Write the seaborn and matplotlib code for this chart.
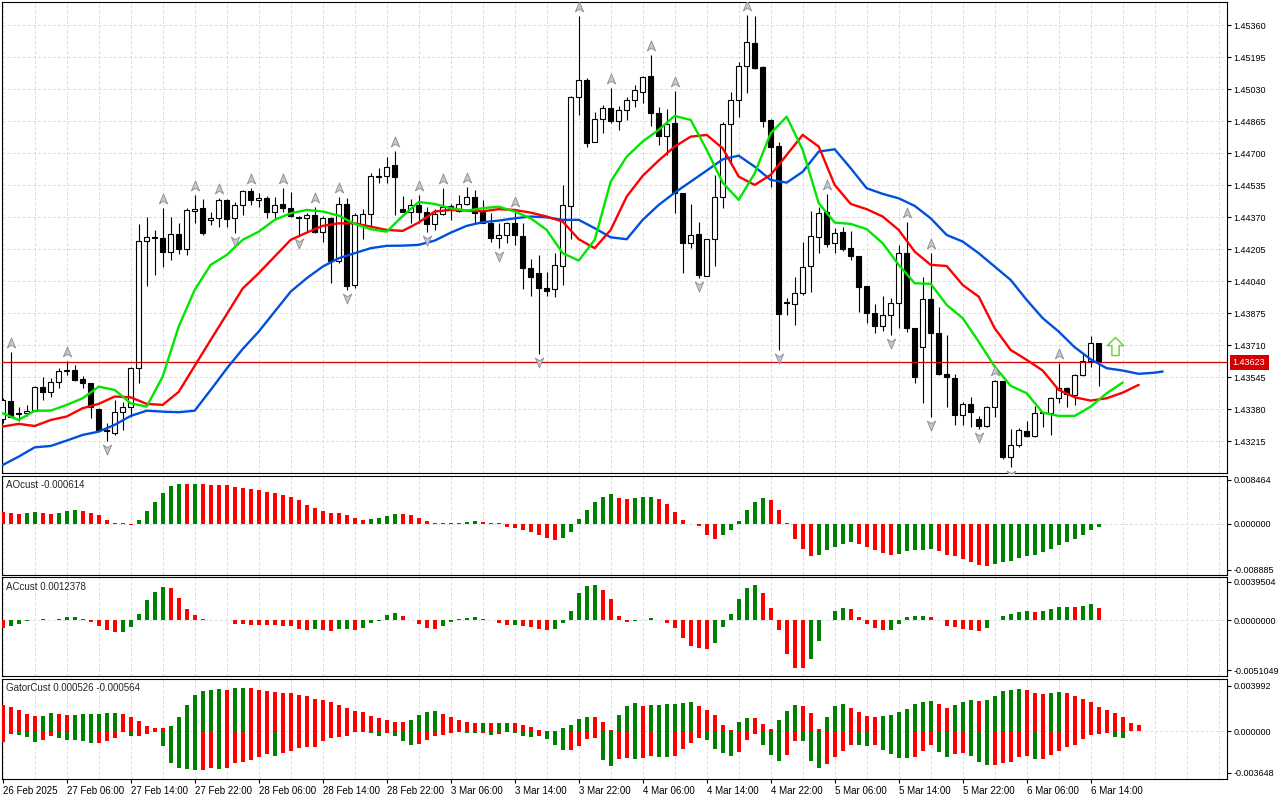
import numpy as np
import matplotlib
matplotlib.use("Agg")
import matplotlib.pyplot as plt
import seaborn as sns
from matplotlib.path import Path
from matplotlib.transforms import offset_copy, blended_transform_factory

# ---- price data (H1 bars, 26 Feb 22:00 .. 6 Mar 15:00) ----
opens = [1.43328, 1.43421, 1.43363, 1.43359, 1.43373, 1.43493, 1.43471, 1.43519, 1.43578, 1.43583,
         1.43535, 1.43514, 1.43380, 1.43273, 1.43259, 1.43368, 1.43394, 1.43591, 1.44250, 1.44267,
         1.44262, 1.44193, 1.44282, 1.44205, 1.44401, 1.44416, 1.44356, 1.44365, 1.44459, 1.44365,
         1.44433, 1.44506, 1.44459, 1.44468, 1.44396, 1.44437, 1.44416, 1.44373, 1.44365, 1.44382,
         1.44293, 1.44365, 1.44147, 1.44439, 1.44021, 1.44330, 1.44387, 1.44580, 1.44583, 1.44640,
         1.44411, 1.44399, 1.44433, 1.44396, 1.44334, 1.44385, 1.44430, 1.44404, 1.44439, 1.44473,
         1.44399, 1.44339, 1.44262, 1.44279, 1.44339, 1.44274, 1.44107, 1.44081, 1.44004, 1.43999,
         1.44121, 1.44430, 1.44989, 1.45078, 1.44760, 1.44875, 1.44932, 1.44868, 1.44923, 1.44975,
         1.45018, 1.45099, 1.44910, 1.44789, 1.44854, 1.44497, 1.44239, 1.44282, 1.44069, 1.44257,
         1.44473, 1.44851, 1.44975, 1.45150, 1.45267, 1.45147, 1.44872, 1.44738, 1.43935, 1.43921,
         1.43978, 1.44121, 1.44270, 1.44397, 1.44239, 1.44293, 1.44210, 1.44171, 1.44016, 1.43875,
         1.43811, 1.43866, 1.43930, 1.44184, 1.43798, 1.43703, 1.43947, 1.43772, 1.43560, 1.43540,
         1.43351, 1.43406, 1.43328, 1.43294, 1.43390, 1.43526, 1.43136, 1.43196, 1.43270, 1.43242,
         1.43363, 1.43363, 1.43437, 1.43488, 1.43454, 1.43557, 1.43631, 1.43720]
highs = [1.43440, 1.43677, 1.43394, 1.43402, 1.43500, 1.43548, 1.43543, 1.43591, 1.43631, 1.43609,
         1.43552, 1.43517, 1.43385, 1.43308, 1.43428, 1.43420, 1.43600, 1.44336, 1.44370, 1.44305,
         1.44416, 1.44370, 1.44339, 1.44416, 1.44485, 1.44465, 1.44396, 1.44468, 1.44463, 1.44451,
         1.44511, 1.44520, 1.44494, 1.44480, 1.44477, 1.44520, 1.44501, 1.44377, 1.44391, 1.44425,
         1.44377, 1.44373, 1.44477, 1.44468, 1.44391, 1.44411, 1.44597, 1.44623, 1.44683, 1.44712,
         1.44480, 1.44463, 1.44485, 1.44425, 1.44411, 1.44520, 1.44439, 1.44485, 1.44528, 1.44510,
         1.44459, 1.44391, 1.44339, 1.44348, 1.44404, 1.44339, 1.44154, 1.44176, 1.44090, 1.44184,
         1.44537, 1.44996, 1.45408, 1.45087, 1.44915, 1.44949, 1.45039, 1.44944, 1.44992, 1.45052,
         1.45099, 1.45207, 1.44941, 1.44927, 1.45023, 1.44497, 1.44439, 1.44348, 1.44260, 1.44588,
         1.44863, 1.45018, 1.45173, 1.45413, 1.45408, 1.45150, 1.44875, 1.44760, 1.43953, 1.44064,
         1.44245, 1.44404, 1.44425, 1.44490, 1.44313, 1.44322, 1.44301, 1.44171, 1.44016, 1.43923,
         1.43964, 1.43953, 1.44227, 1.44348, 1.43798, 1.44061, 1.44188, 1.43909, 1.43763, 1.43562,
         1.43420, 1.43445, 1.43346, 1.43397, 1.43531, 1.43526, 1.43277, 1.43282, 1.43322, 1.43397,
         1.43368, 1.43445, 1.43621, 1.43497, 1.43562, 1.43669, 1.43758, 1.43720]
lows = [1.43310, 1.43339, 1.43322, 1.43346, 1.43370, 1.43428, 1.43442, 1.43488, 1.43557, 1.43528,
        1.43488, 1.43334, 1.43270, 1.43215, 1.43247, 1.43273, 1.43342, 1.43517, 1.44016, 1.44073,
        1.44116, 1.44150, 1.44181, 1.44176, 1.44342, 1.44279, 1.44330, 1.44322, 1.44322, 1.44287,
        1.44382, 1.44433, 1.44421, 1.44365, 1.44365, 1.44399, 1.44373, 1.44279, 1.44296, 1.44287,
        1.44245, 1.44030, 1.44133, 1.43996, 1.44004, 1.44257, 1.44322, 1.44545, 1.44549, 1.44382,
        1.44396, 1.44339, 1.44342, 1.44296, 1.44305, 1.44382, 1.44356, 1.44399, 1.44433, 1.44339,
        1.44339, 1.44245, 1.44210, 1.44236, 1.44227, 1.43999, 1.43964, 1.43665, 1.43964, 1.43961,
        1.44021, 1.44257, 1.44898, 1.44734, 1.44757, 1.44807, 1.44855, 1.44820, 1.44872, 1.44941,
        1.44958, 1.44841, 1.44743, 1.44691, 1.44394, 1.44085, 1.44210, 1.44056, 1.44067, 1.44119,
        1.44416, 1.44640, 1.44889, 1.45013, 1.45135, 1.44837, 1.44528, 1.43686, 1.43866, 1.43815,
        1.43970, 1.43987, 1.44188, 1.44219, 1.44188, 1.44198, 1.44150, 1.43883, 1.43827, 1.43772,
        1.43786, 1.43763, 1.43801, 1.43780, 1.43517, 1.43411, 1.43342, 1.43557, 1.43390, 1.43299,
        1.43299, 1.43291, 1.43277, 1.43291, 1.43342, 1.43123, 1.43084, 1.43187, 1.43239, 1.43239,
        1.43290, 1.43247, 1.43414, 1.43390, 1.43402, 1.43552, 1.43600, 1.43500]
closes = [1.43428, 1.43342, 1.43356, 1.43373, 1.43493, 1.43471, 1.43519, 1.43578, 1.43583, 1.43531,
          1.43514, 1.43390, 1.43273, 1.43268, 1.43368, 1.43394, 1.43591, 1.44250, 1.44267, 1.44265,
          1.44193, 1.44282, 1.44205, 1.44408, 1.44413, 1.44291, 1.44365, 1.44459, 1.44360, 1.44433,
          1.44506, 1.44459, 1.44468, 1.44396, 1.44432, 1.44416, 1.44377, 1.44365, 1.44382, 1.44296,
          1.44368, 1.44147, 1.44439, 1.44016, 1.44382, 1.44387, 1.44583, 1.44585, 1.44631, 1.44580,
          1.44399, 1.44433, 1.44399, 1.44334, 1.44385, 1.44425, 1.44418, 1.44439, 1.44477, 1.44391,
          1.44342, 1.44262, 1.44279, 1.44339, 1.44279, 1.44107, 1.44064, 1.44004, 1.43992, 1.44124,
          1.44434, 1.44989, 1.45078, 1.44755, 1.44875, 1.44932, 1.44868, 1.44923, 1.44975, 1.45027,
          1.45092, 1.44910, 1.44789, 1.44849, 1.44494, 1.44239, 1.44277, 1.44073, 1.44257, 1.44473,
          1.44851, 1.44975, 1.45150, 1.45272, 1.45138, 1.44868, 1.44734, 1.43870, 1.43927, 1.43978,
          1.44116, 1.44274, 1.44391, 1.44232, 1.44291, 1.44205, 1.44171, 1.44012, 1.43875, 1.43811,
          1.43866, 1.43927, 1.44188, 1.43798, 1.43545, 1.43947, 1.43772, 1.43560, 1.43545, 1.43351,
          1.43406, 1.43368, 1.43294, 1.43394, 1.43526, 1.43136, 1.43196, 1.43273, 1.43242, 1.43363,
          1.43365, 1.43437, 1.43488, 1.43459, 1.43557, 1.43631, 1.43720, 1.43623]
current_price = 1.43623

# ---- Alligator lines (read every second bar, shifted forward) ----
lips_idx = list(range(0, 141, 2))
lips = [1.43360, 1.43325, 1.43373, 1.43373, 1.43403, 1.43437, 1.43497, 1.43480, 1.43411, 1.43394,
        1.43549, 1.43807, 1.43996, 1.44125, 1.44176, 1.44254, 1.44296, 1.44357, 1.44391, 1.44408,
        1.44400, 1.44379, 1.44336, 1.44309, 1.44296, 1.44377, 1.44449, 1.44439, 1.44417, 1.44405,
        1.44417, 1.44425, 1.44400, 1.44365, 1.44305, 1.44185, 1.44147, 1.44254, 1.44554, 1.44683,
        1.44761, 1.44821, 1.44893, 1.44872, 1.44718, 1.44549, 1.44460, 1.44597, 1.44804, 1.44889,
        1.44718, 1.44443, 1.44343, 1.44336, 1.44309, 1.44236, 1.44125, 1.44030, 1.44027, 1.43918,
        1.43850, 1.43729, 1.43600, 1.43501, 1.43463, 1.43363, 1.43346, 1.43346, 1.43394, 1.43463,
        1.43518]
teeth_idx = list(range(0, 143, 2))
teeth = [1.43291, 1.43305, 1.43294, 1.43325, 1.43343, 1.43386, 1.43408, 1.43446, 1.43442, 1.43408,
         1.43403, 1.43470, 1.43604, 1.43738, 1.43870, 1.44003, 1.44082, 1.44168, 1.44254, 1.44291,
         1.44326, 1.44339, 1.44339, 1.44322, 1.44305, 1.44300, 1.44343, 1.44400, 1.44408, 1.44405,
         1.44401, 1.44412, 1.44408, 1.44394, 1.44374, 1.44348, 1.44257, 1.44211, 1.44305, 1.44477,
         1.44584, 1.44663, 1.44735, 1.44786, 1.44795, 1.44726, 1.44580, 1.44537, 1.44589, 1.44692,
         1.44795, 1.44735, 1.44537, 1.44439, 1.44412, 1.44374, 1.44305, 1.44193, 1.44125, 1.44119,
         1.44021, 1.43961, 1.43798, 1.43686, 1.43635, 1.43580, 1.43480, 1.43442, 1.43425, 1.43437,
         1.43466, 1.43506]
jaw_idx = list(range(0, 145, 2)) + [145]
jaw = [1.43093, 1.43136, 1.43184, 1.43191, 1.43219, 1.43248, 1.43265, 1.43300, 1.43346, 1.43373,
       1.43368, 1.43365, 1.43373, 1.43480, 1.43590, 1.43691, 1.43781, 1.43884, 1.43987, 1.44056,
       1.44116, 1.44159, 1.44185, 1.44211, 1.44223, 1.44224, 1.44228, 1.44250, 1.44291, 1.44326,
       1.44345, 1.44353, 1.44365, 1.44374, 1.44370, 1.44357, 1.44357, 1.44314, 1.44267, 1.44257,
       1.44357, 1.44434, 1.44497, 1.44554, 1.44611, 1.44669, 1.44688, 1.44631, 1.44563, 1.44549,
       1.44605, 1.44709, 1.44721, 1.44623, 1.44520, 1.44491, 1.44468, 1.44429, 1.44365, 1.44279,
       1.44245, 1.44185, 1.44116, 1.44047, 1.43944, 1.43850, 1.43781, 1.43700, 1.43638, 1.43592,
       1.43580, 1.43563, 1.43569, 1.43575]

fractal_up = [1, 8, 20, 24, 27, 31, 35, 39, 42, 49, 52, 55, 58, 64, 72, 76, 81, 84, 93, 103, 113, 116, 124, 132]
fractal_down = [13, 29, 37, 43, 53, 62, 67, 87, 97, 111, 116, 122, 126]
signal_bar = 139
signal_price = 1.43707

# ---- oscillators ----
ao = [0.002251, 0.002122, 0.001929, 0.002122, 0.002186, 0.002122, 0.001929, 0.002122, 0.002508, 0.002572,
      0.002508, 0.002122, 0.001736, 0.000772, 0.000193, 0.000064, -0.000322, 0.000772, 0.002508, 0.004244,
      0.005980, 0.007330, 0.007716, 0.007652, 0.007716, 0.007652, 0.007523, 0.007459, 0.007395, 0.007137,
      0.006944, 0.006752, 0.006559, 0.006173, 0.005980, 0.005594, 0.005208, 0.004630, 0.003665, 0.003086,
      0.002508, 0.002122, 0.002058, 0.001736, 0.001157, 0.000772, 0.000965, 0.001157, 0.001543, 0.001929,
      0.001865, 0.001736, 0.001157, 0.000579, 0.000193, 0.000161, 0.000064, 0.000096, 0.000386, 0.000418,
      0.000386, 0.000193, 0.000064, -0.000579, -0.000772, -0.001157, -0.001543, -0.002122, -0.002701, -0.003086,
      -0.002701, -0.001543, 0.000965, 0.002701, 0.004244, 0.005208, 0.005787, 0.005015, 0.004823, 0.005015,
      0.005048, 0.005080, 0.004823, 0.003858, 0.002315, 0.000772, -0.000064, -0.000514, -0.002122, -0.002894,
      -0.002122, -0.001157, 0.000579, 0.002572, 0.004244, 0.005015, 0.004630, 0.002701, 0.000064, -0.002894,
      -0.004823, -0.006173, -0.005980, -0.005015, -0.004437, -0.003858, -0.003472, -0.003858, -0.004437, -0.005015,
      -0.005594, -0.005980, -0.005787, -0.005208, -0.005144, -0.005015, -0.004823, -0.005208, -0.005980, -0.006173,
      -0.006752, -0.007330, -0.007909, -0.008102, -0.007716, -0.007330, -0.007137, -0.006559, -0.006173, -0.005980,
      -0.005401, -0.004823, -0.004051, -0.003472, -0.002894, -0.002122, -0.001157, -0.000614]
ac = [-0.000755, -0.000583, -0.000377, -0.000034, 0.000034, 0.000103, 0.000034, 0.000137, 0.000309, 0.000326,
      0.000172, -0.000137, -0.000617, -0.000995, -0.001235, -0.001201, -0.000720, 0.000617, 0.002058, 0.002881,
      0.003396, 0.003293, 0.002264, 0.001132, 0.000515, 0.000103, 0.000034, 0.000051, 0.000017, -0.000377,
      -0.000412, -0.000429, -0.000446, -0.000463, -0.000515, -0.000532, -0.000617, -0.000926, -0.000943, -0.000926,
      -0.001029, -0.001132, -0.000926, -0.000909, -0.001029, -0.000823, -0.000309, -0.000103, 0.000515, 0.000720,
      0.000412, 0.000034, -0.000377, -0.000823, -0.000926, -0.000617, -0.000206, 0.000103, 0.000206, 0.000309,
      0.000103, 0.000034, -0.000309, -0.000515, -0.000497, -0.000617, -0.000720, -0.000926, -0.001029, -0.000926,
      -0.000309, 0.000926, 0.002778, 0.003499, 0.003602, 0.003087, 0.002161, 0.000412, -0.000137, -0.000034,
      0.000034, 0.000206, 0.000034, -0.000309, -0.000823, -0.001852, -0.002573, -0.002778, -0.002881, -0.002264,
      -0.000720, 0.000617, 0.002161, 0.003293, 0.003602, 0.002778, 0.001235, -0.001029, -0.003396, -0.004836,
      -0.004853, -0.003910, -0.002058, 0.000034, 0.000926, 0.001235, 0.001132, 0.000309, -0.000412, -0.000823,
      -0.001029, -0.000995, -0.000412, 0.000309, 0.000412, 0.000429, 0.000309, 0.000034, -0.000617, -0.000635,
      -0.000926, -0.001029, -0.001132, -0.000823, 0.000034, 0.000412, 0.000617, 0.000823, 0.000926, 0.000823,
      0.000926, 0.001132, 0.001338, 0.001355, 0.001338, 0.001441, 0.001646, 0.0012378]
gator_up = [0.002315, 0.002139, 0.001875, 0.001524, 0.001348, 0.001362, 0.001612, 0.001524, 0.001436, 0.001450,
            0.001524, 0.001538, 0.001553, 0.001612, 0.001626, 0.001524, 0.001260, 0.000908, 0.000469, 0.000293,
            0.000278, 0.000469, 0.001260, 0.002315, 0.003194, 0.003545, 0.003633, 0.003721, 0.003633, 0.003809,
            0.003824, 0.003809, 0.003633, 0.003545, 0.003457, 0.003370, 0.003355, 0.003194, 0.003106, 0.002842,
            0.002754, 0.002578, 0.002315, 0.002051, 0.001787, 0.001699, 0.001377, 0.001172, 0.000996, 0.000820,
            0.000806, 0.000996, 0.001436, 0.001699, 0.001787, 0.001524, 0.001260, 0.000996, 0.000820, 0.000733,
            0.000747, 0.000733, 0.000747, 0.000762, 0.000733, 0.000557, 0.000381, 0.000117, 0.000015, 0.000059,
            0.000293, 0.000557, 0.001084, 0.001260, 0.001245, 0.000820, 0.000088, 0.001436, 0.002227, 0.002491,
            0.002227, 0.002315, 0.002329, 0.002403, 0.002417, 0.002491, 0.002578, 0.002227, 0.001875, 0.001436,
            0.000557, 0.000117, 0.000820, 0.001172, 0.001157, 0.000645, 0.000205, 0.000996, 0.001787, 0.002315,
            0.002227, 0.001612, 0.000205, 0.001260, 0.002227, 0.002403, 0.002051, 0.001699, 0.001348, 0.001260,
            0.001348, 0.001436, 0.001699, 0.001963, 0.002403, 0.002578, 0.002666, 0.002403, 0.002051, 0.002315,
            0.002578, 0.002754, 0.002666, 0.002769, 0.003106, 0.003545, 0.003633, 0.003721, 0.003633, 0.003370,
            0.003282, 0.003370, 0.003457, 0.003370, 0.003106, 0.002842, 0.002578, 0.002139, 0.001875, 0.001612,
            0.001260, 0.000762, 0.000526]
gator_down = [-0.000908, -0.000264, -0.000293, -0.000498, -0.000938, -0.000762, -0.000410, -0.000586, -0.000762, -0.000776,
              -0.000850, -0.001026, -0.001011, -0.000850, -0.000586, -0.000059, -0.000410, -0.000396, -0.000234, -0.000059,
              -0.001289, -0.002784, -0.003223, -0.003340, -0.003399, -0.003370, -0.003194, -0.003340, -0.003223, -0.002813,
              -0.002666, -0.002520, -0.002285, -0.001992, -0.002168, -0.001934, -0.001729, -0.001494, -0.001406, -0.001348,
              -0.000850, -0.000586, -0.000469, -0.000410, -0.000059, -0.000029, -0.000117, -0.000410, -0.000147, -0.000410,
              -0.000850, -0.001201, -0.001113, -0.000762, -0.000410, -0.000322, -0.000147, -0.000059, -0.000147, -0.000161,
              -0.000147, -0.000322, -0.000234, -0.000059, -0.000147, -0.000410, -0.000498, -0.000410, -0.000674, -0.001201,
              -0.001641, -0.001612, -0.001289, -0.000674, -0.000586, -0.002520, -0.003047, -0.002432, -0.002344, -0.002432,
              -0.002344, -0.002168, -0.002256, -0.002271, -0.002168, -0.001553, -0.001026, -0.000586, -0.000762, -0.001553,
              -0.001905, -0.002168, -0.001817, -0.000762, -0.000234, -0.001201, -0.002080, -0.002608, -0.002080, -0.000850,
              -0.000864, -0.002608, -0.003223, -0.002871, -0.002256, -0.001729, -0.001201, -0.001216, -0.001289, -0.001201,
              -0.001641, -0.001992, -0.002344, -0.002359, -0.002256, -0.001729, -0.001201, -0.001817, -0.002256, -0.001992,
              -0.001905, -0.002168, -0.002696, -0.002959, -0.002945, -0.002784, -0.002696, -0.002256, -0.002168, -0.002432,
              -0.002417, -0.002080, -0.001729, -0.001377, -0.001201, -0.000674, -0.000322, -0.000234, -0.000147, -0.000498,
              -0.000564]

price_ticks = [1.43215, 1.43380, 1.43545, 1.43710, 1.43875, 1.44040, 1.44205,
               1.44370, 1.44535, 1.44700, 1.44865, 1.45030, 1.45195, 1.45360]
ao_ticks = [0.008464, 0.0, -0.008885]
ac_ticks = [0.0039504, 0.0, -0.0051049]
gator_ticks = [0.003992, 0.0, -0.003648]
time_pos = [0, 8, 16, 24, 32, 40, 48, 56, 64, 72, 80, 88, 96, 104, 112, 120, 128, 136]
time_labels = ["26 Feb 2025", "27 Feb 06:00", "27 Feb 14:00", "27 Feb 22:00", "28 Feb 06:00",
               "28 Feb 14:00", "28 Feb 22:00", "3 Mar 06:00", "3 Mar 14:00", "3 Mar 22:00",
               "4 Mar 06:00", "4 Mar 14:00", "4 Mar 22:00", "5 Mar 06:00", "5 Mar 14:00",
               "5 Mar 22:00", "6 Mar 06:00", "6 Mar 14:00"]

GREEN = "#008000"
RED = "#ff0000"
GRID = "#dcdcdc"
DASH = (0, (3, 2.2))

sns.set_style("white")
plt.rcParams["font.family"] = ["Liberation Sans", "DejaVu Sans"]
plt.rcParams["font.size"] = 7


def px_rect(x0, y0, x1, y1):
    return [x0 / 1280, 1 - y1 / 800, (x1 - x0) / 1280, (y1 - y0) / 800]


def style_panel(ax, ticks, fmt):
    ax.set_xlim(-0.0875, 153.075)
    for s in ax.spines.values():
        s.set_color("black")
        s.set_linewidth(0.8)
    ax.vlines(np.arange(0, 153, 4), 0, 1, transform=ax.get_xaxis_transform(),
              colors=GRID, linewidth=0.7, linestyles=DASH, zorder=0)
    ax.set_yticks(ticks)
    ax.set_yticklabels([fmt.format(v) for v in ticks])
    ax.tick_params(axis="y", left=False, labelleft=False, right=True, labelright=True,
                   length=3, width=0.8, pad=1.5, labelsize=6.5, direction="out", colors="black")
    ax.set_xticks([])


def up_down_colors(values):
    v = np.asarray(values)
    prev = np.concatenate([[np.inf], v[:-1]])
    return np.where(v > prev, GREEN, RED)


fig = plt.figure(figsize=(12.8, 8), dpi=100, facecolor="white")
ax_main = fig.add_axes(px_rect(2, 2, 1227.3, 472.7))
ax_ao = fig.add_axes(px_rect(2, 475.7, 1227.3, 574.7))
ax_ac = fig.add_axes(px_rect(2, 577.3, 1227.3, 676.3))
ax_gt = fig.add_axes(px_rect(2, 678.7, 1227.3, 779))

# ---- main price panel ----
style_panel(ax_main, price_ticks, "{:.5f}")
ax_main.set_ylim(1.430532, 1.454803)
ax_main.hlines(price_ticks, 0, 1, transform=ax_main.get_yaxis_transform(),
               colors=GRID, linewidth=0.7, linestyles=DASH, zorder=0)

o = np.array(opens)
h = np.array(highs)
l = np.array(lows)
c = np.array(closes)
x = np.arange(len(o))
bull = c > o
ax_main.vlines(x, l, h, colors="black", linewidth=0.8, zorder=2)
ax_main.bar(x, np.abs(c - o), bottom=np.minimum(o, c), width=0.6,
            color=np.where(bull, "white", "black"), edgecolor="black", linewidth=0.8, zorder=3)

ax_main.axhline(current_price, color="#d00000", linewidth=0.9, zorder=3.5)

sns.lineplot(x=jaw_idx, y=jaw, ax=ax_main, color="#0050dc", linewidth=1.7, zorder=5)
sns.lineplot(x=teeth_idx, y=teeth, ax=ax_main, color="#ff0000", linewidth=1.7, zorder=5)
sns.lineplot(x=lips_idx, y=lips, ax=ax_main, color="#00e600", linewidth=1.7, zorder=5)
ax_main.set_xlabel("")
ax_main.set_ylabel("")

up_arrow = Path([(0, 1), (0.75, -0.8), (0, -0.3), (-0.75, -0.8), (0, 1)],
                [Path.MOVETO, Path.LINETO, Path.LINETO, Path.LINETO, Path.CLOSEPOLY])
down_arrow = Path([(0, -1), (0.75, 0.8), (0, 0.3), (-0.75, 0.8), (0, -1)],
                  [Path.MOVETO, Path.LINETO, Path.LINETO, Path.LINETO, Path.CLOSEPOLY])
ax_main.plot(fractal_up, h[fractal_up], linestyle="none", marker=up_arrow, ms=8,
             mfc="#c6c6ce", mec="#8a8a94", mew=0.6, zorder=6,
             transform=offset_copy(ax_main.transData, fig=fig, x=0, y=9, units="dots"))
ax_main.plot(fractal_down, l[fractal_down], linestyle="none", marker=down_arrow, ms=8,
             mfc="#c6c6ce", mec="#8a8a94", mew=0.6, zorder=6,
             transform=offset_copy(ax_main.transData, fig=fig, x=0, y=-8, units="dots"))

block_arrow = Path([(0, 1), (0.9, 0.1), (0.4, 0.1), (0.4, -1), (-0.4, -1), (-0.4, 0.1), (-0.9, 0.1), (0, 1)],
                   [Path.MOVETO] + [Path.LINETO] * 6 + [Path.CLOSEPOLY])
ax_main.plot([signal_bar], [signal_price], linestyle="none", marker=block_arrow, ms=13,
             mfc="white", mec="#74d23a", mew=1.1, zorder=7)

ax_main.text(1.0045, current_price, f"{current_price:.5f}", color="white", fontsize=6.5,
             ha="left", va="center", clip_on=False, zorder=10,
             transform=blended_transform_factory(ax_main.transAxes, ax_main.transData),
             bbox=dict(boxstyle="square,pad=0.35", fc="#d40000", ec="none"))

# ---- AO ----
style_panel(ax_ao, ao_ticks, "{:.6f}")
ax_ao.set_ylim(-0.00985, 0.00924)
ax_ao.axhline(0, color=GRID, linewidth=0.7, linestyle=DASH, zorder=1)
ax_ao.bar(np.arange(len(ao)), ao, width=0.5, color=up_down_colors(ao), linewidth=0, zorder=3)
ax_ao.text(0.0033, 0.955, f"AOcust {ao[-1]:.6f}", transform=ax_ao.transAxes,
           ha="left", va="top", fontsize=7)

# ---- AC ----
style_panel(ax_ac, ac_ticks, "{:.7f}")
ax_ac.set_ylim(-0.00572, 0.00441)
ax_ac.axhline(0, color=GRID, linewidth=0.7, linestyle=DASH, zorder=1)
ax_ac.bar(np.arange(len(ac)), ac, width=0.5, color=up_down_colors(ac), linewidth=0, zorder=3)
ax_ac.text(0.0033, 0.955, f"ACcust {ac[-1]:.7f}", transform=ax_ac.transAxes,
           ha="left", va="top", fontsize=7)

# ---- Gator ----
style_panel(ax_gt, gator_ticks, "{:.6f}")
ax_gt.set_ylim(-0.00418, 0.00461)
ax_gt.axhline(0, color=GRID, linewidth=0.7, linestyle=DASH, zorder=1)
ax_gt.bar(np.arange(len(gator_up)), gator_up, width=0.5,
          color=up_down_colors(gator_up), linewidth=0, zorder=3)
ax_gt.bar(np.arange(len(gator_down)), gator_down, width=0.5,
          color=up_down_colors(np.abs(gator_down)), linewidth=0, zorder=3)
ax_gt.text(0.0033, 0.955, f"GatorCust {gator_up[-1]:.6f} {gator_down[-1]:.6f}",
           transform=ax_gt.transAxes, ha="left", va="top", fontsize=7)

ax_gt.set_xticks(time_pos)
ax_gt.set_xticklabels(time_labels, ha="left")
ax_gt.tick_params(axis="x", bottom=True, length=3, width=0.8, pad=2, labelsize=7,
                  direction="out", colors="black")

fig.savefig("out.png", dpi=100, facecolor="white")
